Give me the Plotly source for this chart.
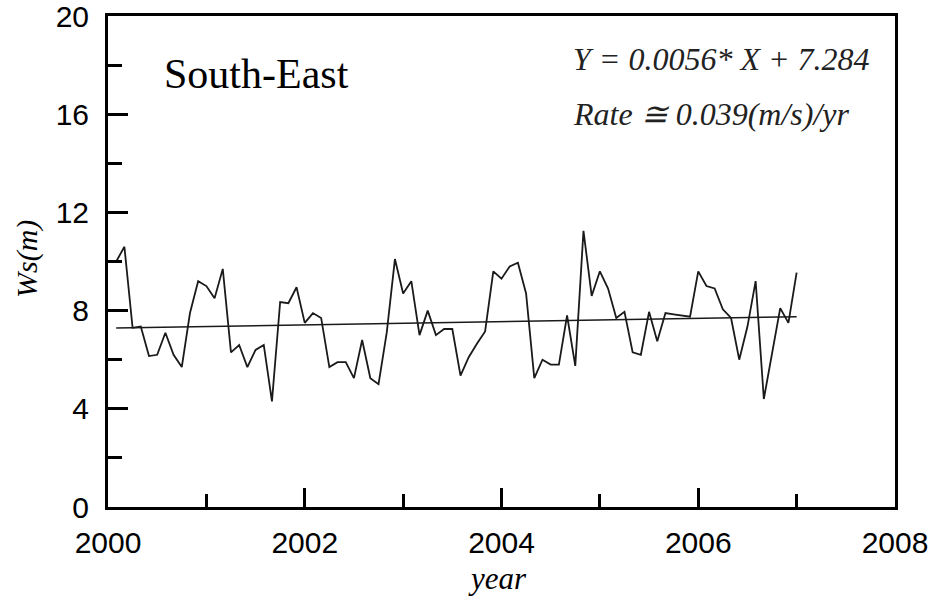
import plotly.graph_objects as go

# Monthly mean wind speed, South-East region (Jan 2000 = month 1 ... Dec 2006 = month 84)
month_index = list(range(1, 85))
ws_values = [
    10.0, 10.6, 7.3, 7.35, 6.15, 6.2, 7.1, 6.2, 5.7, 7.9, 9.2, 9.0,
    8.5, 9.7, 6.3, 6.6, 5.7, 6.4, 6.6, 4.3, 8.35, 8.3, 8.95, 7.5,
    7.9, 7.7, 5.7, 5.9, 5.9, 5.25, 6.8, 5.25, 5.0, 7.1, 10.1, 8.7,
    9.2, 7.0, 8.0, 7.0, 7.25, 7.25, 5.35, 6.1, 6.65, 7.15, 9.6, 9.3,
    9.8, 9.95, 8.7, 5.25, 6.0, 5.8, 5.8, 7.8, 5.75, 11.25, 8.6, 9.6,
    8.9, 7.7, 7.95, 6.3, 6.2, 7.95, 6.75, 7.9, 7.85, 7.8, 7.75, 9.6,
    9.0, 8.9, 8.05, 7.7, 6.0, 7.35, 9.2, 4.4, 6.25, 8.1, 7.5, 9.55,
]

# Linear fit: Y = slope * X + intercept, X = month index
slope = 0.0056
intercept = 7.284

x_ticks = [2000, 2002, 2004, 2006, 2008]
y_ticks = [0, 4, 8, 12, 16, 20]

years = [2000 + m / 12 for m in month_index]
trend = [slope * m + intercept for m in month_index]

fig = go.Figure()
fig.add_trace(go.Scatter(x=years, y=ws_values, mode="lines",
                         line=dict(color="#1a1a1a", width=1.8), showlegend=False))
fig.add_trace(go.Scatter(x=[years[0], years[-1]], y=[trend[0], trend[-1]], mode="lines",
                         line=dict(color="#1a1a1a", width=1.5), showlegend=False))

axis_font = dict(family="Liberation Sans, Arial, sans-serif", size=30, color="black")
serif = "Liberation Serif, Times New Roman, serif"

fig.update_layout(
    width=936, height=602,
    margin=dict(l=108, r=41, t=16, b=95, autoexpand=False),
    paper_bgcolor="white", plot_bgcolor="white",
    xaxis=dict(
        range=[2000, 2008], tickvals=x_ticks, ticktext=[str(v) for v in x_ticks],
        ticks="inside", ticklen=19, tickwidth=3, tickcolor="black",
        minor=dict(ticks="inside", ticklen=13, tickwidth=3, tickcolor="black", dtick=1, tick0=2000),
        showline=True, linewidth=3, linecolor="black", mirror=True, automargin=False,
        showgrid=False, zeroline=False, tickfont=axis_font, ticklabelstandoff=7,
        ticklabeloverflow="allow",
    ),
    yaxis=dict(
        range=[0, 20], tickvals=y_ticks, ticktext=[str(v) for v in y_ticks],
        ticks="inside", ticklen=20, tickwidth=3, tickcolor="black",
        minor=dict(ticks="inside", ticklen=14, tickwidth=3, tickcolor="black", dtick=2, tick0=0),
        showline=True, linewidth=3, linecolor="black", mirror=True, automargin=False,
        showgrid=False, zeroline=False, tickfont=axis_font, ticklabelstandoff=10,
        ticklabeloverflow="allow",
    ),
)

def px_to_paper_x(px):
    return (px - 108) / (936 - 108 - 41)

def px_to_paper_y(py):
    return (602 - 95 - py) / (602 - 16 - 95)

annotations = [
    dict(text="South-East", x=px_to_paper_x(162), y=px_to_paper_y(74), xanchor="left", yanchor="middle",
         font=dict(family=serif, size=42, color="black")),
    dict(text="<i>Y = 0.0056* X + 7.284</i>", x=px_to_paper_x(571), y=px_to_paper_y(59), xanchor="left",
         yanchor="middle", font=dict(family=serif, size=32, color="#222")),
    dict(text="<i>Rate ≅ 0.039(m/s)/yr</i>", x=px_to_paper_x(571), y=px_to_paper_y(114), xanchor="left",
         yanchor="middle", font=dict(family=serif, size=32, color="#222")),
    dict(text="<i>Ws(m)</i>", x=px_to_paper_x(27), y=px_to_paper_y(259), xanchor="center", yanchor="middle",
         textangle=-90, font=dict(family=serif, size=30, color="black")),
    dict(text="<i>year</i>", x=px_to_paper_x(497), y=px_to_paper_y(578), xanchor="center", yanchor="middle",
         font=dict(family=serif, size=31, color="black")),
]
for a in annotations:
    a.update(xref="paper", yref="paper", showarrow=False)
fig.update_layout(annotations=annotations)

fig.write_html("out.html")
